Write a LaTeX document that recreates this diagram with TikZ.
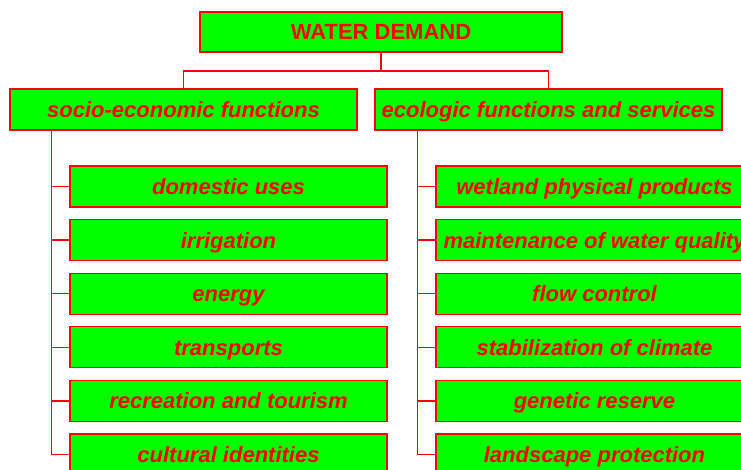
\documentclass[tikz,border=0pt]{standalone}
\usepackage{fontspec}
\setmainfont{Liberation Sans}
\usetikzlibrary{positioning}

\tikzset{
  box/.style={draw=red, fill=green, text=red, line width=1.1pt, inner sep=0pt,
    text height=18pt, text depth=2pt,
    minimum height=41pt, font=\fontsize{22}{26}\selectfont\bfseries},
  topbox/.style={box, minimum width=362pt, minimum height=40pt, text height=17pt},
  groupbox/.style={box, minimum width=347pt, font=\fontsize{22}{26}\selectfont\bfseries\itshape},
  itembox/.style={box, minimum width=317pt, font=\fontsize{22}{26}\selectfont\bfseries\itshape},
  link/.style={draw=red, line width=1.2pt}
}

\begin{document}
\begin{tikzpicture}[x=1pt, y=-1pt]
  \useasboundingbox (0,0) rectangle (741,470);
  % top of the tree
  \node[topbox] (wd) at (381,32) {WATER DEMAND};
  \node[groupbox] (socio) at (183.5,109.5) {socio-economic functions};
  \node[groupbox] (eco) at (548.5,109.5) {ecologic functions and services};
  \coordinate (split) at (381,71);
  \draw[link] (wd.south) -- (split) -| (socio.north);
  \draw[link] (split) -| (eco.north);

  % socio-economic branch
  \foreach \txt [count=\i] in {domestic uses, irrigation, energy, transports,
      recreation and tourism, cultural identities} {
    \node[itembox] (s\i) at (228.5,{186.5+53.6*(\i-1)}) {\txt};
    \draw[link] ([xshift=42pt]socio.south west) |- (s\i.west);
  }

  % ecologic branch
  \foreach \txt [count=\i] in {wetland physical products, maintenance of water quality,
      flow control, stabilization of climate, genetic reserve, landscape protection} {
    \node[itembox] (e\i) at (594.5,{186.5+53.6*(\i-1)}) {\txt};
    \draw[link] ([xshift=43pt]eco.south west) |- (e\i.west);
  }
\end{tikzpicture}
\end{document}
